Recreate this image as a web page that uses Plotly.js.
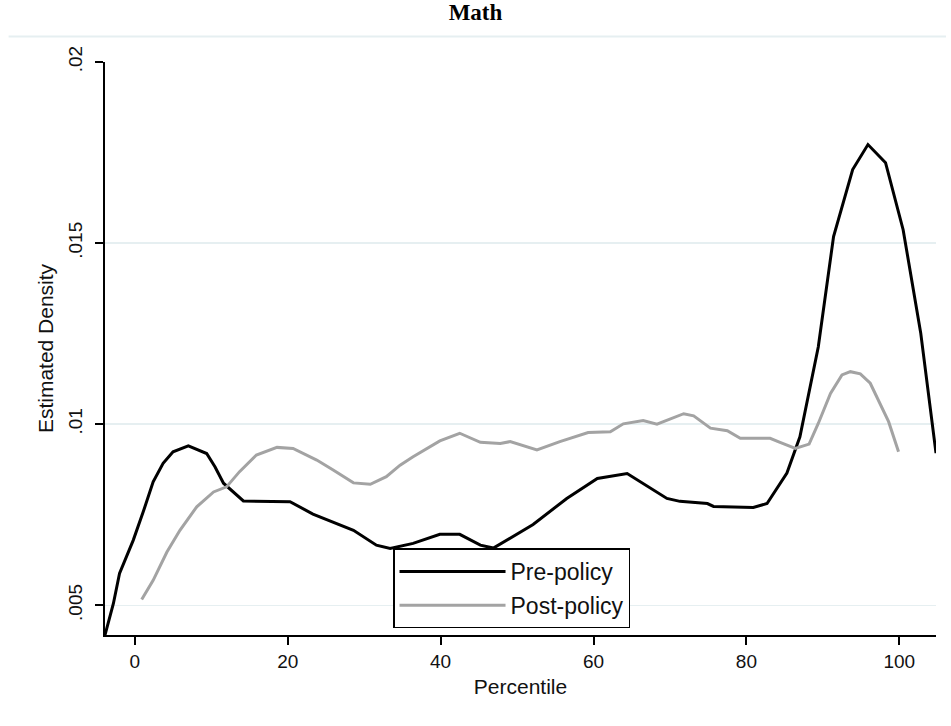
<!DOCTYPE html>
<html>
<head>
<meta charset="utf-8">
<script src="https://cdn.plot.ly/plotly-3.0.1.min.js"></script>
<style>
  html, body { margin: 0; padding: 0; background: #ffffff; }
  #chart { width: 951px; height: 726px; }
</style>
</head>
<body>
<div id="chart"></div>
<script>
// Pre-policy kernel density (percentile, density)
const preX = [-3.9, -2.8, -2.0, -0.2, 1.1, 2.4, 3.7, 5.0, 7.0, 9.4, 10.5, 11.6, 14.2, 20.3, 23.3, 28.6, 31.6, 33.4, 36.4, 39.9, 42.5, 45.2, 46.9, 52.1, 56.5, 60.5, 64.4, 69.6, 71.3, 74.9, 75.7, 80.9, 82.7, 85.3, 87.0, 89.4, 91.4, 93.9, 95.9, 98.2, 100.5, 102.8, 104.8];
const preY = [0.00418, 0.00505, 0.00588, 0.00680, 0.00758, 0.00841, 0.00892, 0.00924, 0.00940, 0.00919, 0.00882, 0.00837, 0.00788, 0.00786, 0.00752, 0.00707, 0.00666, 0.00657, 0.00671, 0.00696, 0.00696, 0.00666, 0.00658, 0.00723, 0.00795, 0.00850, 0.00864, 0.00795, 0.00787, 0.00781, 0.00773, 0.00770, 0.00781, 0.00865, 0.00965, 0.01213, 0.01518, 0.01703, 0.01772, 0.01722, 0.01537, 0.01252, 0.00920];

// Post-policy kernel density
const postX = [0.9, 2.4, 4.2, 5.9, 8.1, 10.3, 12.0, 13.7, 15.9, 18.6, 20.7, 23.8, 26.0, 28.6, 30.8, 32.9, 34.7, 36.4, 39.9, 42.5, 45.2, 47.8, 49.1, 52.6, 55.6, 59.3, 62.2, 63.9, 66.5, 68.3, 71.8, 73.1, 75.3, 77.5, 79.2, 83.1, 84.4, 86.4, 88.2, 89.4, 91.0, 92.5, 93.6, 94.9, 96.2, 97.5, 98.6, 99.9];
const postY = [0.00516, 0.00569, 0.00647, 0.00707, 0.00772, 0.00813, 0.00827, 0.00869, 0.00915, 0.00936, 0.00933, 0.00901, 0.00873, 0.00838, 0.00834, 0.00855, 0.00887, 0.00910, 0.00954, 0.00975, 0.00950, 0.00947, 0.00952, 0.00929, 0.00952, 0.00977, 0.00979, 0.01001, 0.01010, 0.01000, 0.01029, 0.01023, 0.00989, 0.00982, 0.00961, 0.00961, 0.00950, 0.00933, 0.00945, 0.01002, 0.01085, 0.01136, 0.01145, 0.01139, 0.01113, 0.01058, 0.01007, 0.00924];

const seriesNames = ["Pre-policy", "Post-policy"];
const xTickVals = [0, 20, 40, 60, 80, 100];
const xTickText = ["0", "20", "40", "60", "80", "100"];
const yTickVals = [0.005, 0.01, 0.015, 0.02];
const yTickText = [".005", ".01", ".015", ".02"];

const sansFont = "Liberation Sans, Arial, sans-serif";

const traces = [
  {
    x: preX, y: preY, name: seriesNames[0], type: "scatter", mode: "lines",
    line: { color: "#000000", width: 3 }, legendgroup: "a"
  },
  {
    x: postX, y: postY, name: seriesNames[1], type: "scatter", mode: "lines",
    line: { color: "#a3a3a3", width: 3 }, legendgroup: "b"
  }
];

const layout = {
  width: 951, height: 726,
  paper_bgcolor: "#ffffff", plot_bgcolor: "#ffffff",
  margin: { l: 105, r: 15, t: 62, b: 91, pad: 0 },
  title: {
    text: "<b>Math</b>",
    font: { family: "Liberation Serif, Times New Roman, serif", size: 23, color: "#000000" },
    x: 0.5, xanchor: "center", y: 0.983, yanchor: "middle", yref: "container"
  },
  xaxis: {
    range: [-3.9, 104.8],
    tickvals: xTickVals, ticktext: xTickText,
    showline: true, linecolor: "#000000", linewidth: 2,
    ticks: "outside", ticklen: 8, tickwidth: 2, tickcolor: "#000000",
    showgrid: false, zeroline: false,
    tickfont: { family: sansFont, size: 19, color: "#111111" },
    title: { text: "Percentile", font: { family: sansFont, size: 21, color: "#111111" }, standoff: 9 }
  },
  yaxis: {
    range: [0.00418, 0.02],
    tickvals: yTickVals, ticktext: yTickText, tickangle: -90,
    showline: true, linecolor: "#000000", linewidth: 2,
    ticks: "outside", ticklen: 8, tickwidth: 2, tickcolor: "#000000",
    showgrid: true, gridcolor: "#e6eff1", gridwidth: 1.5, zeroline: false,
    tickfont: { family: sansFont, size: 19, color: "#111111" },
    ticklabelstandoff: 5,
    title: { text: "Estimated Density", font: { family: sansFont, size: 21, color: "#111111" }, standoff: 6 }
  },
  showlegend: true,
  legend: {
    x: 0.3466, y: 0.151, xanchor: "left", yanchor: "top",
    bgcolor: "#ffffff", bordercolor: "#000000", borderwidth: 1.5,
    font: { family: sansFont, size: 23, color: "#111111" },
    tracegroupgap: 1, itemwidth: 106
  },
  shapes: [
    {
      type: "line", xref: "paper", yref: "paper",
      x0: -0.116, x1: 1.012, y0: 1.0446, y1: 1.0446,
      line: { color: "#e6eff1", width: 2 }
    }
  ]
};

Plotly.newPlot("chart", traces, layout, { displayModeBar: false, staticPlot: true });
</script>
</body>
</html>
